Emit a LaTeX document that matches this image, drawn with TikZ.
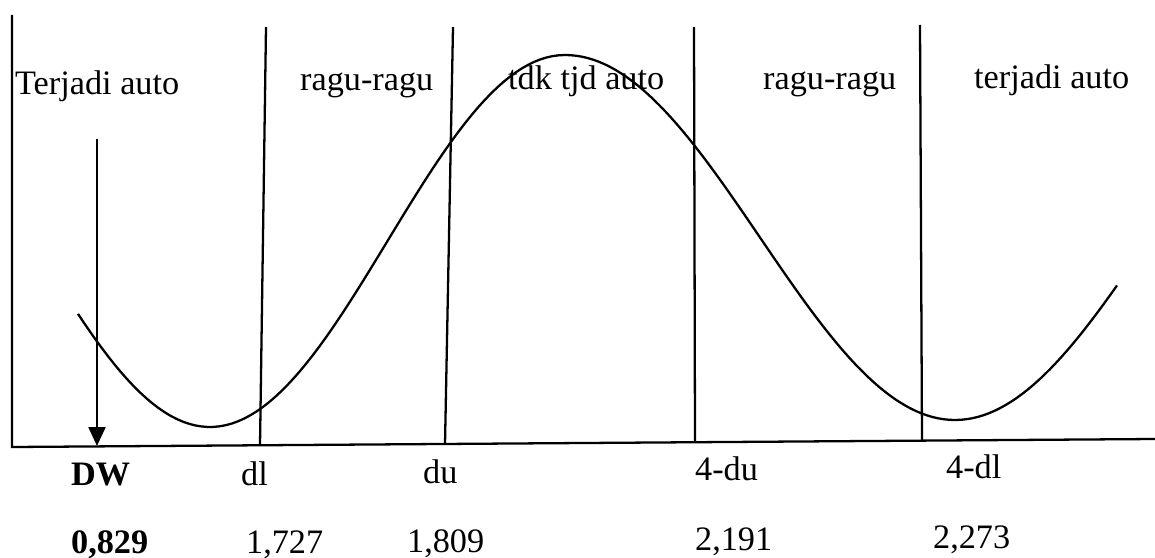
\documentclass[tikz,border=0pt]{standalone}
\usepackage{fontspec}
\setmainfont{Liberation Serif}
\usetikzlibrary{arrows.meta}

\tikzset{
  lbl/.style={anchor=base west, inner sep=0pt, font=\fontsize{19.5}{23}\selectfont},
  boldlbl/.style={lbl, font=\fontsize{19.5}{23}\selectfont\bfseries},
}

\begin{document}
\begin{tikzpicture}[x=0.2mm,y=-0.2mm,line width=1.3pt]
\useasboundingbox (0,0) rectangle (1155,558);
% axes
\draw (12,15) -- (12,447) -- (1155,439);
% batas daerah
\draw (266,27) -- (260,445.5);
\draw (453,27) -- (445,444.3);
\draw (694,27) -- (695,442.8);
\draw (920,25) -- (922,441.4);
% kurva
\draw[domain=78:565,samples=80] plot (\x,{241+186*cos((\x-210)/355*180)});
\draw[domain=565:1117,samples=100] plot (\x,{237.5-182.5*cos((\x-565)/390*180)});
% panah DW
\coordinate (dwtop) at (97,139);
\coordinate (dwfoot) at (97,446);
\draw[-{Triangle[length=3.8mm,width=3.4mm]}] (dwtop) -- (dwfoot);
% daerah
\node[lbl] (r1) at (14,95) {Terjadi auto};
\node[lbl] (r2) at (299,91) {ragu-ragu};
\node[lbl] (r3) at (507,90) {tdk tjd auto};
\node[lbl] (r4) at (762,89) {ragu-ragu};
\node[lbl] (r5) at (973,88) {terjadi auto};
% label sumbu
\node[boldlbl] (dw) at (70,485) {DW};
\node[lbl] (dl) at (240,485) {dl};
\node[lbl] (du) at (422,483) {du};
\node[lbl] (fdu) at (694,480) {4-du};
\node[lbl] (fdl) at (945,478) {4-dl};
% nilai
\node[boldlbl] (vdw) at (70,553) {0,829};
\node[lbl] (vdl) at (245,553) {1,727};
\node[lbl] (vdu) at (406,552) {1,809};
\node[lbl] (vfdu) at (694,550) {2,191};
\node[lbl] (vfdl) at (932,548) {2,273};
\end{tikzpicture}
\end{document}
